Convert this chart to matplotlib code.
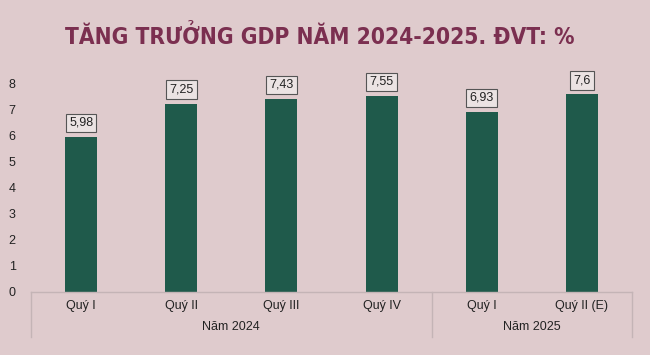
import matplotlib
matplotlib.use('Agg')
import matplotlib.pyplot as plt
import matplotlib.transforms as mtransforms

plt.rcParams['font.family'] = ['Liberation Sans', 'DejaVu Sans']

# Data
quarters = ['Quý I', 'Quý II', 'Quý III', 'Quý IV', 'Quý I', 'Quý II (E)']
values = [5.98, 7.25, 7.43, 7.55, 6.93, 7.6]
value_labels = ['5,98', '7,25', '7,43', '7,55', '6,93', '7,6']
years = ['Năm 2024', 'Năm 2025']
year_sizes = [4, 2]

bg = '#dfcbcd'
bar_color = '#1f5a4b'
title_color = '#7b2f50'

fig = plt.figure(figsize=(6.5, 3.55), dpi=100, facecolor=bg)
W, H = 650, 355
ax = fig.add_axes([31 / W, (H - 292) / H, (632 - 31) / W, (292 - 84) / H])
ax.set_facecolor(bg)

x = range(len(quarters))
ax.bar(x, values, width=0.32, color=bar_color)
ax.set_xlim(-0.5, len(quarters) - 0.5)
ax.set_ylim(0, 8)
ax.set_yticks(range(0, 9))
ax.tick_params(axis='y', length=0, labelsize=9, colors='#222222', pad=11)
ax.set_xticks(list(x))
ax.set_xticklabels(quarters)
ax.tick_params(axis='x', length=0, labelsize=9, colors='#222222', pad=6)

for s in ['top', 'right', 'left']:
    ax.spines[s].set_visible(False)
ax.spines['bottom'].set_color('#c4b4b6')
ax.spines['bottom'].set_linewidth(1)

# data labels
for xi, v, lab in zip(x, values, value_labels):
    ax.annotate(lab, (xi, v), xytext=(0, 10), textcoords='offset points',
                ha='center', va='center', fontsize=9, color='#222222',
                bbox=dict(boxstyle='square,pad=0.25', fc='#ebe3e3', ec='#555555', lw=0.8))

# year group labels and separators
trans = mtransforms.blended_transform_factory(ax.transData, ax.transAxes)
sep_depth = -45 / (292 - 84)
start = -0.5
bounds = [start]
for yr, n in zip(years, year_sizes):
    mid = start + n / 2
    ax.text(mid, -35 / (292 - 84), yr, transform=trans, ha='center', va='center',
            fontsize=9, color='#222222')
    start += n
    bounds.append(start)
for b in bounds:
    ax.plot([b, b], [0, sep_depth], transform=trans, color='#c4b4b6', lw=1, clip_on=False)

fig.text(0.492, 1 - 37 / H, 'TĂNG TRƯỞNG GDP NĂM 2024-2025. ĐVT: %', ha='center', va='center',
         fontsize=16.3, fontweight='bold', fontstretch='condensed', color=title_color,
         family='DejaVu Sans')

fig.savefig('out.png', dpi=100, facecolor=bg)
